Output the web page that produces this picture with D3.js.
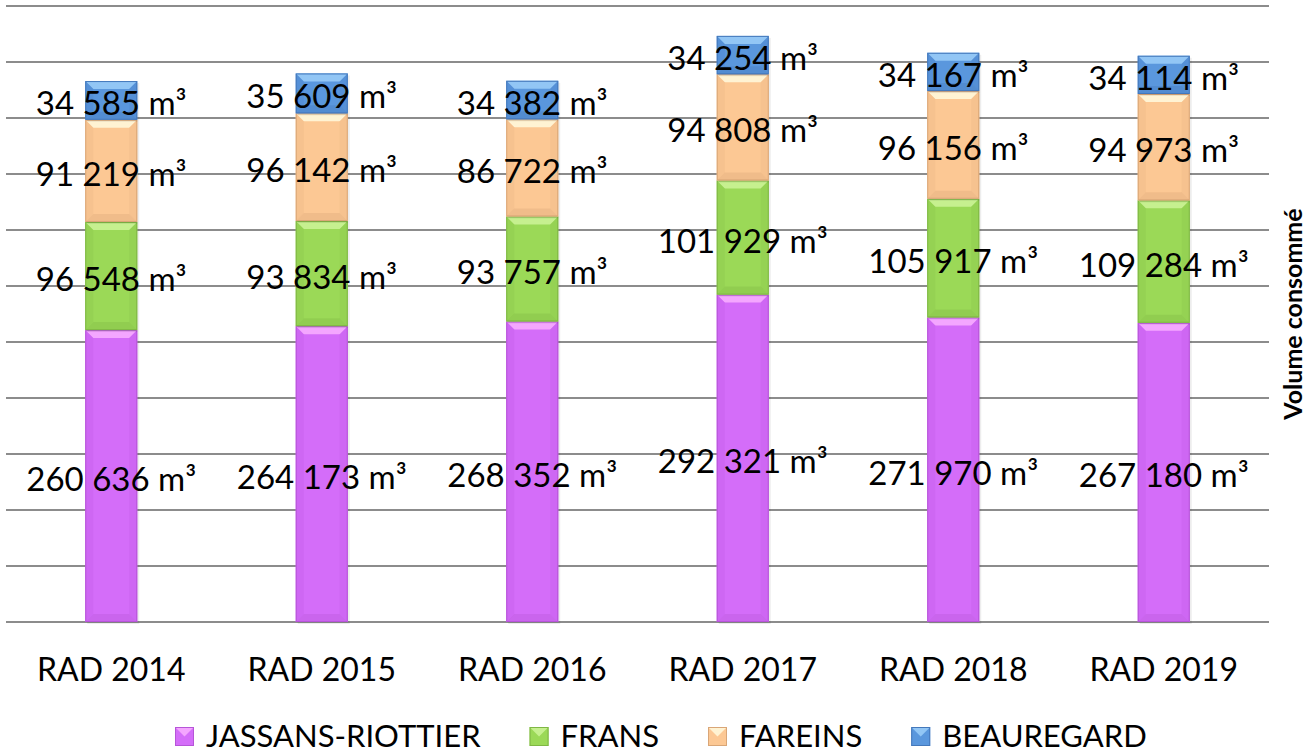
<!DOCTYPE html>
<html lang="fr">
<head>
<meta charset="UTF-8">
<title>Volume consommé par commune</title>
<script src="https://cdn.jsdelivr.net/npm/d3@7/dist/d3.min.js"></script>
<style>
  body { margin: 0; background: #fff; }
  text { font-family: Lato, "Open Sans", sans-serif; fill: #000; }
</style>
</head>
<body>
<div id="chart"></div>
<script>
// data
const years = ["RAD 2014", "RAD 2015", "RAD 2016", "RAD 2017", "RAD 2018", "RAD 2019"];
const communes = ["JASSANS-RIOTTIER", "FRANS", "FAREINS", "BEAUREGARD"];
const jassans = [260636, 264173, 268352, 292321, 271970, 267180];
const frans = [96548, 93834, 93757, 101929, 105917, 109284];
const fareins = [91219, 96142, 86722, 94808, 96156, 94973];
const beauregard = [34585, 35609, 34382, 34254, 34167, 34114];
const yTicks = d3.range(0, 550001, 50000);

// colours: main, light bevel, dark bevel
const colors = [
    {main: "#d46df9", light: "#f4a6ff", dark: "#b655d8", side: "#c862ee"},
    {main: "#9bd957", light: "#c6f08f", dark: "#7fb744", side: "#8fcc4f"},
    {main: "#fcc894", light: "#fff3d3", dark: "#d9a677", side: "#f0bc89"},
    {main: "#5a97dd", light: "#92c6f5", dark: "#4478bb", side: "#4f8ad2"}
];

const width = 1313, height = 755;
const series = [jassans, frans, fareins, beauregard];

const svg = d3.select("#chart").append("svg")
    .attr("width", width)
    .attr("height", height);

// scales
const x = d3.scaleBand().domain(years).range([6, 1269])
    .paddingInner(0.753).paddingOuter(0.3765);
const y = d3.scaleLinear().domain([0, 550000]).range([622, 6]);

// gridlines
svg.append("g").selectAll("line")
    .data(yTicks)
    .join("line")
    .attr("x1", 6).attr("x2", 1269)
    .attr("y1", d => y(d)).attr("y2", d => y(d))
    .attr("stroke", "#8c8c8c")
    .attr("stroke-width", 2);

// stack the segments
const rows = years.map((yr, i) => {
    const o = {year: yr};
    communes.forEach((c, k) => o[c] = series[k][i]);
    return o;
});
const stacked = d3.stack().keys(communes)(rows);

const bw = x.bandwidth();
const b = 8;

const bars = svg.append("g");
stacked.forEach((layer, k) => {
    const col = colors[k];
    layer.forEach(seg => {
        const x0 = x(seg.data.year), x1 = x0 + bw;
        const y0 = y(seg[1]), y1 = y(seg[0]);
        const g = bars.append("g");
        // shadow
        g.append("rect")
            .attr("x", x0 + 2).attr("y", y0 + 2)
            .attr("width", bw).attr("height", y1 - y0)
            .attr("fill", "#000").attr("opacity", 0.07);
        g.append("rect")
            .attr("x", x0).attr("y", y0)
            .attr("width", bw).attr("height", y1 - y0)
            .attr("fill", col.main);
        // bevel facets
        g.append("polygon")
            .attr("points", [[x0, y0], [x1, y0], [x1 - b, y0 + b], [x0 + b, y0 + b]].join(" "))
            .attr("fill", col.light);
        g.append("polygon")
            .attr("points", [[x0, y1], [x1, y1], [x1 - b, y1 - b], [x0 + b, y1 - b]].join(" "))
            .attr("fill", col.dark).attr("opacity", 0.35);
        g.append("polygon")
            .attr("points", [[x0, y0], [x0 + b, y0 + b], [x0 + b, y1 - b], [x0, y1]].join(" "))
            .attr("fill", col.side).attr("opacity", 0.5);
        g.append("polygon")
            .attr("points", [[x1, y0], [x1 - b, y0 + b], [x1 - b, y1 - b], [x1, y1]].join(" "))
            .attr("fill", col.side).attr("opacity", 0.5);
        g.append("rect")
            .attr("x", x0 + 0.5).attr("y", y0 + 0.5)
            .attr("width", bw - 1).attr("height", y1 - y0 - 1)
            .attr("fill", "none").attr("stroke", col.dark).attr("stroke-width", 1);
    });
});

// data labels
const fmt = v => d3.format(",")(v).replace(",", " ") + " m³";
const labels = svg.append("g");
stacked.forEach(layer => {
    layer.forEach(seg => {
        labels.append("text")
            .attr("x", x(seg.data.year) + bw / 2)
            .attr("y", (y(seg[0]) + y(seg[1])) / 2 + 2)
            .attr("text-anchor", "middle")
            .attr("dominant-baseline", "central")
            .attr("font-size", 33)
            .text(fmt(seg[1] - seg[0]));
    });
});

// x axis labels
svg.append("g").selectAll("text")
    .data(years)
    .join("text")
    .attr("x", d => x(d) + bw / 2)
    .attr("y", 681)
    .attr("text-anchor", "middle")
    .attr("font-size", 32)
    .text(d => d);

// y axis title
svg.append("text")
    .attr("transform", "translate(1302,314) rotate(-90)")
    .attr("text-anchor", "middle")
    .attr("font-size", 25)
    .attr("font-weight", "bold")
    .text("Volume consommé");

// legend
const legend = svg.append("g");
let lx = 175;
communes.forEach((c, k) => {
    const col = colors[k];
    const m = 19, my = 727;
    legend.append("rect")
        .attr("x", lx).attr("y", my)
        .attr("width", m).attr("height", m)
        .attr("fill", col.main);
    legend.append("polygon")
        .attr("points", [[lx, my], [lx + m, my], [lx + m / 2, my + m / 2]].join(" "))
        .attr("fill", col.light);
    legend.append("rect")
        .attr("x", lx + 0.5).attr("y", my + 0.5)
        .attr("width", m - 1).attr("height", m - 1)
        .attr("fill", "none").attr("stroke", col.dark);
    const t = legend.append("text")
        .attr("x", lx + m + 12)
        .attr("y", 747)
        .attr("font-size", 31)
        .text(c);
    lx += m + 12 + t.node().getComputedTextLength() + 49;
});
</script>
</body>
</html>
